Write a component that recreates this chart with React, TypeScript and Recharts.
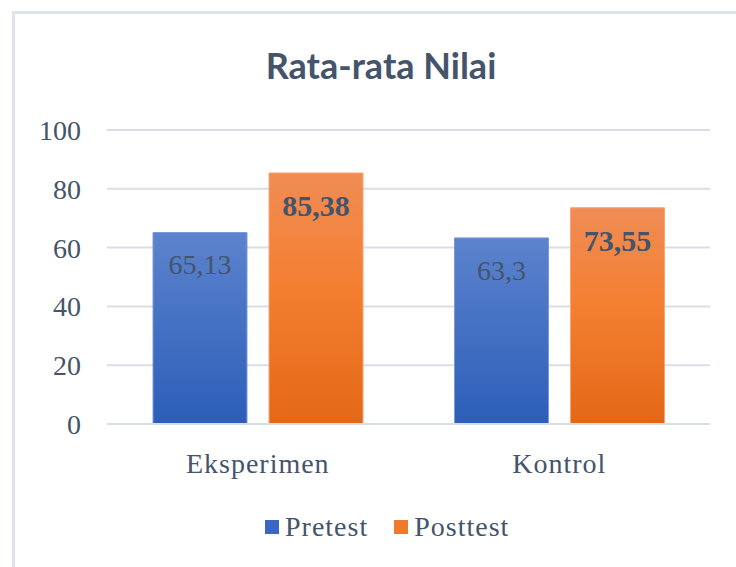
import { Bar, BarChart, CartesianGrid, LabelList, Legend, XAxis, YAxis } from "recharts";

const categories = ["Eksperimen", "Kontrol"];
const pretest = [65.13, 63.3];
const posttest = [85.38, 73.55];
const yTicks = [0, 20, 40, 60, 80, 100];
const seriesNames = ["Pretest", "Posttest"];

const data = categories.map((name, i) => ({ name, pretest: pretest[i], posttest: posttest[i] }));

const TEXT = "#44546a";
const GRID = "#d9dee6";
const SERIF = "Liberation Serif";

const fmt = (v: number) => String(v).replace(".", ",");

function XTick({ x, y, payload }: any) {
  return (
    <text x={x} y={y} dy="0.71em" textAnchor="middle" fill={TEXT} fontFamily={SERIF} fontSize={28} letterSpacing={1}>
      {payload.value}
    </text>
  );
}

function LegendBox() {
  const colors = ["#3a68c0", "#ee7a30"];
  return (
    <div style={{ display: "flex", alignItems: "center", fontFamily: SERIF, fontSize: 28, color: TEXT, lineHeight: "31px" }}>
      {seriesNames.map((n, i) => (
        <div key={n} style={{ display: "flex", alignItems: "center", marginRight: i === 0 ? 26 : 0 }}>
          <span style={{ width: 14, height: 14, background: colors[i], marginRight: 6, display: "inline-block" }} />
          <span style={{ letterSpacing: 1 }}>{n}</span>
        </div>
      ))}
    </div>
  );
}

export default function App() {
  return (
    <div style={{ position: "absolute", left: 0, top: 0, width: 736, height: 567, overflow: "hidden", background: "#fff" }}>
      <div
        style={{
          position: "absolute",
          left: 12,
          top: 11,
          width: 800,
          height: 620,
          border: "3px solid #dfe3ea",
          boxSizing: "border-box",
        }}
      />
      <div
        style={{
          position: "absolute",
          left: 0,
          top: 43,
          width: 762,
          textAlign: "center",
          fontFamily: "Lato, 'Open Sans', sans-serif",
          fontWeight: 700,
          fontSize: 36,
          lineHeight: "44px",
          color: TEXT,
        }}
      >
        Rata-rata Nilai
      </div>
      <BarChart
        width={736}
        height={567}
        data={data}
        margin={{ top: 130, right: 26, left: 47, bottom: 83 }}
        barCategoryGap={46}
        barGap={22}
        style={{ position: "absolute", left: 0, top: 0 }}
      >
        <defs>
          <linearGradient id="gBlue" x1="0" y1="0" x2="0" y2="1">
            <stop offset="0%" stopColor="#5c83cd" />
            <stop offset="100%" stopColor="#2c5eb8" />
          </linearGradient>
          <linearGradient id="gOrange" x1="0" y1="0" x2="0" y2="1">
            <stop offset="0%" stopColor="#f08c55" />
            <stop offset="45%" stopColor="#f47f31" />
            <stop offset="100%" stopColor="#e36816" />
          </linearGradient>
        </defs>
        <CartesianGrid vertical={false} stroke={GRID} strokeWidth={2} />
        <XAxis
          dataKey="name"
          axisLine={{ stroke: GRID, strokeWidth: 2 }}
          tickLine={false}
          tickMargin={23}
          height={60}
          tick={<XTick />}
        />
        <YAxis
          domain={[0, 100]}
          ticks={yTicks}
          width={60}
          axisLine={false}
          tickLine={false}
          tickMargin={20}
          tick={{ fill: TEXT, fontSize: 28, fontFamily: SERIF }}
        />
        <Legend
          layout="horizontal"
          verticalAlign="middle"
          align="center"
          wrapperStyle={{ top: 511, left: 265, width: 320 }}
          content={<LegendBox />}
        />
        <Bar dataKey="pretest" name={seriesNames[0]} fill="url(#gBlue)" stroke="#7c9ad8" strokeWidth={1} isAnimationActive={false}>
          <LabelList
            dataKey="pretest"
            position="insideTop"
            offset={22}
            formatter={(v: any) => fmt(v)}
            fill={TEXT}
            fontSize={28}
            fontFamily={SERIF}
          />
        </Bar>
        <Bar dataKey="posttest" name={seriesNames[1]} fill="url(#gOrange)" stroke="#f6a574" strokeWidth={1} isAnimationActive={false}>
          <LabelList
            dataKey="posttest"
            position="insideTop"
            offset={22}
            formatter={(v: any) => fmt(v)}
            fill={TEXT}
            fontSize={30}
            fontWeight={700}
            fontFamily={SERIF}
          />
        </Bar>
      </BarChart>
    </div>
  );
}
